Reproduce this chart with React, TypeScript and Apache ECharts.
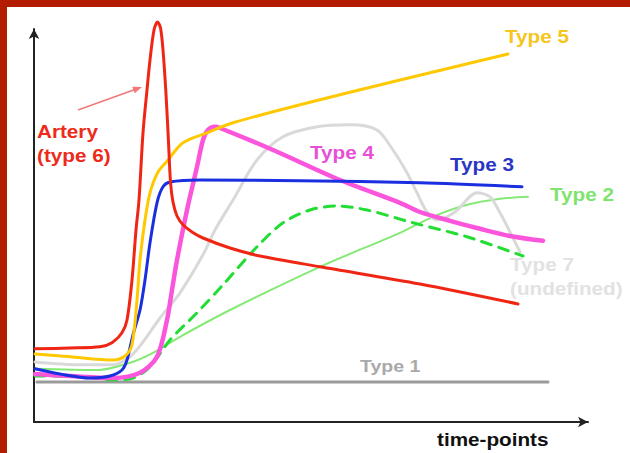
import React, { useEffect, useRef } from "react";
import * as echarts from "echarts";

// Data (x = time, y = intensity, arbitrary units)
const arteryType6: number[][] = [
  [0.2, 18.3], [7.2, 18.5], [13.2, 18.8], [15.6, 19.8], [17.6, 22.3], [18.6, 25.5],
  [19.6, 35.5], [20.4, 48], [21, 55.5], [21.8, 72.3], [22.6, 83], [23.2, 90.5],
  [24, 98], [24.7, 100], [25.3, 98.5], [25.8, 93], [26.4, 82], [26.9, 70],
  [27.3, 60], [27.8, 55], [28.6, 51.5], [29.8, 49.3], [31.6, 47.5], [33.8, 46],
  [39.2, 43.5], [45.2, 41.5], [57.2, 38.8], [77.2, 34.5], [96.8, 29.5],
];
const type5: number[][] = [
  [0.2, 17], [7.2, 16.3], [15.8, 15.5], [18.2, 16.5], [19.6, 19.3], [20.6, 30.5],
  [21.2, 40.5], [22.2, 50.5], [23.2, 57.3], [24.8, 62.5], [26.6, 65.2], [29.8, 69.8],
  [34.6, 72.3], [39.8, 74.8], [53.2, 79.3], [73.2, 85.5], [94.8, 92],
];
const type3: number[][] = [
  [0.2, 13.3], [5.2, 12], [11.2, 11], [15.2, 11.5], [17.6, 13], [18.6, 15.5],
  [19.8, 21.8], [21.2, 28], [22.2, 35.5], [23.2, 44.8], [24.6, 54.8], [25.8, 58.8],
  [27.2, 60], [33.2, 60.5], [53.2, 60.3], [77.2, 59.8], [97.6, 58.8],
];
const type4: number[][] = [
  [0.2, 12], [7.2, 11.5], [15.8, 11], [21.2, 12.3], [24.6, 16.3], [26.6, 25.5],
  [27.6, 33], [28.6, 40.5], [30.6, 53], [32.6, 63.8], [33.8, 70.5], [34.8, 73],
  [36.2, 73.8], [37.2, 73.5], [47.8, 68], [61.2, 60.5], [73.2, 54.8], [77.2, 52.5],
  [83.2, 50.3], [89.2, 48.3], [95.2, 46.5], [101.8, 45.3],
];
const type7: number[][] = [
  [0.2, 15], [9.2, 14.3], [15.8, 14.3], [19.2, 16.3], [21.8, 20], [25.2, 26],
  [29.2, 32.3], [33.8, 41.8], [36.2, 48], [39.8, 55.5], [44.6, 65.5], [49.8, 71.3],
  [56.6, 73.8], [63.2, 74.3], [68.6, 73], [71.8, 68], [74.6, 62.3], [76.6, 57.3],
  [78.6, 52.5], [80.6, 50.5], [84.2, 52.5], [88.6, 57.3], [91.2, 56.3], [93.2, 52.3],
  [95.2, 47.5], [97.2, 42.5],
];
const type2Dashed: number[][] = [
  [0.2, 11.5], [11.2, 11.3], [15.2, 10.5], [19.8, 11], [23.2, 13.8], [27.2, 20.5],
  [32.6, 27.3], [37.8, 34.3], [44.6, 43.8], [49.8, 49.8], [55.2, 53], [60.6, 54],
  [66.6, 53], [75.8, 49.8], [86.6, 46.3], [97.8, 41.5],
];
const type2: number[][] = [
  [0.2, 13.3], [12.6, 13], [19.2, 14.8], [23.8, 17.3], [29.2, 21.3], [39.2, 28],
  [57.2, 38.8], [73.2, 47.3], [79.8, 51.3], [86.6, 54.3], [93.2, 55.8], [98.8, 56.3],
];
const type1: number[][] = [
  [0.6, 10], [102.8, 10],
];

const xMax = 110.8;
const yMax = 98.25;

function label(text: string, x: number, y: number, fill: string, size = 18, align = "left") {
  return {
    type: "text",
    x,
    y,
    scaleX: 1.15,
    silent: true,
    style: {
      text,
      fill,
      font: `bold ${size}px 'Liberation Sans', Arial, sans-serif`,
      align,
      textAlign: align,
      verticalAlign: "middle",
      textVerticalAlign: "middle",
    },
  };
}

export default function App() {
  const ref = useRef<HTMLDivElement>(null);
  useEffect(() => {
    if (!ref.current) return;
    const chart = echarts.init(ref.current, null, { renderer: "svg" });
    const line = (name: string, data: number[][], color: string, width: number, extra: any = {}) => ({
      type: "line",
      name,
      data,
      showSymbol: false,
      smooth: 0.3,
      clip: false,
      lineStyle: { color, width, cap: "round", join: "round", ...(extra.lineStyle || {}) },
      z: 2,
    });
    chart.setOption({
      animation: false,
      backgroundColor: "#ffffff",
      grid: { left: 34, top: 29, right: 42, bottom: 31 },
      xAxis: {
        type: "value",
        min: 0,
        max: xMax,
        axisLine: {
          show: true,
          lineStyle: { color: "#222", width: 2 },
          symbol: ["none", "arrow"],
          symbolSize: [8, 10],
        },
        axisTick: { show: false },
        axisLabel: { show: false },
        splitLine: { show: false },
      },
      yAxis: {
        type: "value",
        min: 0,
        max: yMax,
        axisLine: {
          show: true,
          lineStyle: { color: "#222", width: 2 },
          symbol: ["none", "arrow"],
          symbolSize: [8, 10],
        },
        axisTick: { show: false },
        axisLabel: { show: false },
        splitLine: { show: false },
      },
      series: [
        line("Type 1", type1, "#9a9a9a", 3),
        line("Type 2", type2, "#85ea75", 2),
        line("Type 7 (undefined)", type7, "#d9d9d9", 3),
        line("Type 2 (dashed)", type2Dashed, "#22dd33", 3, { lineStyle: { type: [10, 8] } }),
        line("Type 4", type4, "#fb55dc", 4.5),
        line("Type 3", type3, "#1a30e0", 3),
        line("Type 5", type5, "#ffc800", 3),
        line("Artery (type 6)", arteryType6, "#f02614", 3),
      ],
      graphic: [
        { type: "rect", shape: { x: 0, y: 0, width: 630, height: 7 }, style: { fill: "#b41c00" }, silent: true },
        { type: "rect", shape: { x: 0, y: 0, width: 7, height: 453 }, style: { fill: "#b41c00" }, silent: true },
        {
          type: "line",
          shape: { x1: 78, y1: 110, x2: 135, y2: 89.5 },
          style: { stroke: "#f27878", lineWidth: 1.5 },
          silent: true,
        },
        {
          type: "polygon",
          shape: { points: [[142, 87], [134.7, 93.3], [132.3, 86.7]] },
          style: { fill: "#f27878" },
          silent: true,
        },
        label("Type 5", 505, 37, "#f7c51c"),
        label("Type 4", 310, 153, "#e650d6"),
        label("Type 3", 450, 165, "#2a36c4"),
        label("Type 2", 550, 195, "#7fe46c"),
        label("Type 7", 510, 265, "#e2e2e2"),
        label("(undefined)", 510, 289, "#e2e2e2"),
        label("Type 1", 360, 366, "#a9a9a9", 17),
        label("Artery", 37, 132, "#ee2a1a"),
        label("(type 6)", 37, 156, "#ee2a1a"),
        label("time-points", 437, 440, "#111111"),
      ],
    });
    return () => chart.dispose();
  }, []);
  return (
    <div
      ref={ref}
      style={{ position: "fixed", left: 0, top: 0, width: 630, height: 453 }}
    />
  );
}
